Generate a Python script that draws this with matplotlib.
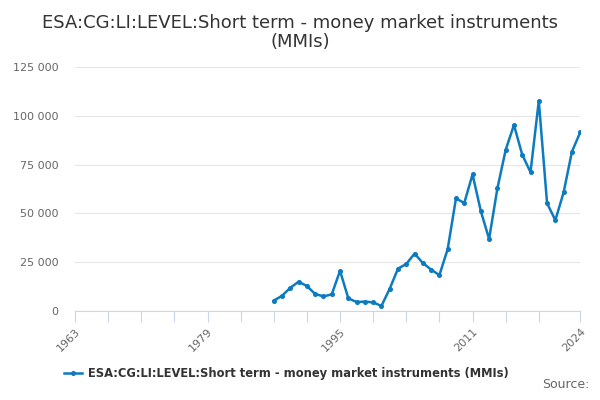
import matplotlib.pyplot as plt
import matplotlib.ticker as mticker

years = list(range(1987, 2025))
values = [5300, 7800, 11900, 15000, 12800, 8700, 7500, 8500, 20600, 6500,
          4600, 4800, 4400, 2600, 11400, 21700, 24100, 29400, 24600, 21200,
          18400, 31700, 57700, 55300, 70000, 51200, 36900, 62800, 82500, 95300,
          80100, 71100, 107600, 55200, 46500, 60800, 81600, 91500]

x_ticks = list(range(1963, 2020, 4)) + [2024]
x_labels = ['1963', '1979', '1995', '2011', '2024']
y_ticks = [0, 25000, 50000, 75000, 100000, 125000]

title = 'ESA:CG:LI:LEVEL:Short term - money market instruments\n(MMIs)'
series_name = 'ESA:CG:LI:LEVEL:Short term - money market instruments (MMIs)'
line_color = '#0C7BC0'

fig = plt.figure(figsize=(6, 4), dpi=100)
ax = fig.add_axes([0.125, 0.2225, 0.842, 0.61])

ax.plot(years, values, color=line_color, linewidth=1.8, marker='o', markersize=2.6,
        label=series_name)

ax.set_xlim(1963, 2024)
ax.set_ylim(0, 125000)
ax.set_yticks(y_ticks)
ax.yaxis.set_major_formatter(mticker.FuncFormatter(lambda v, p: f'{int(v):,}'.replace(',', ' ')))
ax.grid(axis='y', color='#e6e6e6', linewidth=0.8)
ax.set_axisbelow(True)

ax.set_xticks(x_ticks)
ax.set_xticklabels([str(t) if str(t) in x_labels else '' for t in x_ticks],
                   rotation=45, ha='right', rotation_mode='anchor')

for side in ['top', 'right', 'left']:
    ax.spines[side].set_visible(False)
ax.spines['bottom'].set_color('#ccd6eb')
ax.tick_params(axis='x', length=8, color='#ccd6eb', labelsize=8, labelcolor='#666666', pad=3)
ax.tick_params(axis='y', length=0, labelsize=8, labelcolor='#666666', pad=12)

fig.suptitle(title, y=0.965, fontsize=13, color='#333333', linespacing=1.1)

leg = fig.legend(loc='center', bbox_to_anchor=(0.477, 0.067), frameon=False,
                 prop={'weight': 'bold', 'size': 8.3}, handlelength=1.6, handletextpad=0.5)
for t in leg.get_texts():
    t.set_color('#333333')

fig.text(0.982, 0.022, 'Source:', ha='right', va='bottom', fontsize=9, color='#666666')

fig.savefig('out.png', dpi=100)
